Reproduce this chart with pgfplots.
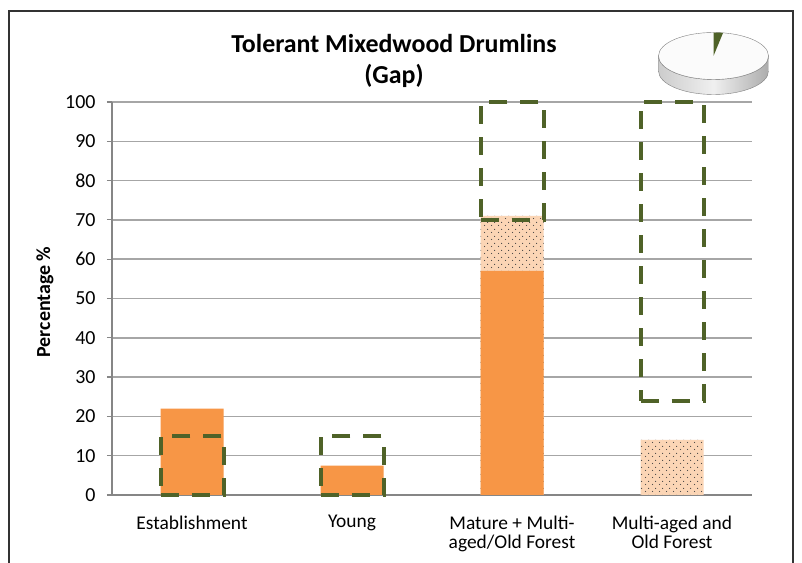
\documentclass[border=0pt]{standalone}
\usepackage{pgfplots}
\pgfplotsset{compat=1.18}
\usepackage{fontspec}
\setmainfont{Carlito}
\usetikzlibrary{patterns.meta}
\definecolor{orangebar}{HTML}{F79646}
\definecolor{peach}{HTML}{FBD5B5}
\definecolor{olivegreen}{HTML}{4F6228}
\definecolor{gridgray}{HTML}{A6A6A6}
\definecolor{axisgray}{HTML}{868686}
\tikzdeclarepattern{
  name=mydots, type=uncolored,
  bottom left={(0bp,0bp)}, top right={(7bp,7bp)}, tile size={(7bp,7bp)},
  code={\pgfpathcircle{\pgfpoint{1.75bp}{1.75bp}}{0.65bp}\pgfpathcircle{\pgfpoint{5.25bp}{5.25bp}}{0.65bp}\pgfusepath{fill}}
}
\begin{document}
\begin{tikzpicture}
\clip (0,0) rectangle (802bp,563bp);
\fill[white] (0,0) rectangle (802bp,563bp);
\begin{axis}[
  at={(112bp,68bp)}, anchor=south west, scale only axis,
  width=640bp, height=393bp,
  xmin=-0.5, xmax=3.5, ymin=0, ymax=100,
  ytick={0,10,...,100},
  xtick={0,1,2,3},
  xticklabels={Establishment, Young, {Mature + Multi-\\aged/Old Forest}, {Multi-aged and\\Old Forest}},
  xticklabel style={align=center, font=\fontsize{19.5}{20}\selectfont, yshift=-12bp},
  yticklabel style={font=\fontsize{20}{20}\selectfont, xshift=-8bp},
  /pgf/number format/assume math mode=true,
  axis x line*=bottom, axis y line*=left,
  axis line style={-, draw=axisgray, line width=1.2bp},
  ymajorgrids, major grid style={draw=gridgray, line width=1.5bp},
  tick align=outside, major tick length=5bp,
  ytick style={draw=axisgray, line width=1.2bp},
  xtick style={draw=none},
]
\addplot[ybar, bar width=63bp, bar shift=0pt, draw=none, fill=peach,
  postaction={pattern=mydots, pattern color=black!75}]
  coordinates {(2,71) (3,14)};
\addplot[ybar, bar width=63bp, bar shift=0pt, draw=none, fill=orangebar]
  coordinates {(0,22) (1,7.5) (2,57)};
\end{axis}
\begin{axis}[
  at={(112bp,68bp)}, anchor=south west, scale only axis,
  width=640bp, height=393bp,
  xmin=-0.5, xmax=3.5, ymin=0, ymax=100,
  hide axis, clip=false, ybar stacked, bar width=63bp,
]
\addplot[draw=none, fill=none] coordinates {(0,0) (1,0) (2,70) (3,24)};
\addplot[draw=olivegreen, fill=none, line width=4bp, dash pattern=on 18bp off 13bp]
  coordinates {(0,15) (1,15) (2,30) (3,76)};
\end{axis}
\node[align=center, font=\fontsize{26}{31}\selectfont\bfseries] at (394bp,502bp)
  {Tolerant Mixedwood Drumlins\\(Gap)};
\node[rotate=90, font=\fontsize{20}{20}\selectfont\bfseries] at (45bp,261bp) {Percentage \%};
% pie decoration
\begin{scope}[shift={(713.5bp,507bp)}]
\shade[left color=gray!40, right color=gray!65, middle color=gray!12, draw=gray]
  (-55bp,0) -- (-55bp,-15bp) arc[start angle=180, end angle=360, x radius=55bp, y radius=23.5bp]
  -- (55bp,0) arc[start angle=0, end angle=-180, x radius=55bp, y radius=23.5bp] -- cycle;
\filldraw[fill=gray!3, draw=gray] (0,0) ellipse [x radius=55bp, y radius=23.5bp];
\fill[olivegreen] (0,0) -- (0,23.5bp) arc[start angle=90, end angle=80, x radius=55bp, y radius=23.5bp] -- cycle;
\end{scope}
\draw[black!80, line width=1.2bp] (9bp,-10bp) rectangle (793bp,552bp);
\end{tikzpicture}
\end{document}
